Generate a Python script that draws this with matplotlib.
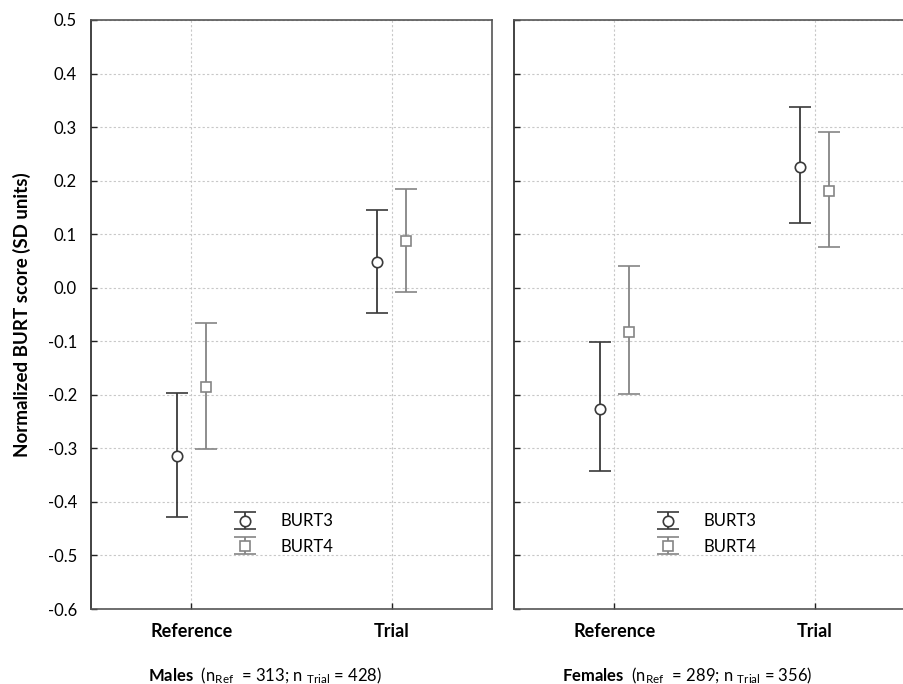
import matplotlib
matplotlib.use('Agg')
import matplotlib.pyplot as plt
import numpy as np

plt.rcParams['font.family'] = ['Lato', 'DejaVu Sans']
plt.rcParams['mathtext.fontset'] = 'custom'
plt.rcParams['mathtext.rm'] = 'Lato'
plt.rcParams['mathtext.bf'] = 'Lato:bold'
plt.rcParams['mathtext.it'] = 'Lato:italic'

categories = ['Reference', 'Trial']
series = ['BURT3', 'BURT4']

# mean, lower and upper limits per panel, series -> [Reference, Trial]
males_mean = {'BURT3': [-0.315, 0.048], 'BURT4': [-0.185, 0.087]}
males_low = {'BURT3': [-0.428, -0.047], 'BURT4': [-0.301, -0.008]}
males_high = {'BURT3': [-0.196, 0.145], 'BURT4': [-0.066, 0.184]}

females_mean = {'BURT3': [-0.227, 0.225], 'BURT4': [-0.083, 0.180]}
females_low = {'BURT3': [-0.343, 0.120], 'BURT4': [-0.198, 0.076]}
females_high = {'BURT3': [-0.102, 0.337], 'BURT4': [0.040, 0.290]}

panel_titles = [
    r'$\mathbf{Males}$  (n$_{\mathrm{Ref}}$  = 313; n $_{\mathrm{Trial}}$ = 428)',
    r'$\mathbf{Females}$  (n$_{\mathrm{Ref}}$  = 289; n $_{\mathrm{Trial}}$ = 356)',
]

yticks = [0.5, 0.4, 0.3, 0.2, 0.1, 0.0, -0.1, -0.2, -0.3, -0.4, -0.5, -0.6]
ytick_labels = ['0.5', '0.4', '0.3', '0.2', '0.1', '0.0', '-0.1', '-0.2',
                '-0.3', '-0.4', '-0.5', '-0.6']

styles = {
    'BURT3': dict(color='#3a3a3a', marker='o', offset=-0.072),
    'BURT4': dict(color='#858585', marker='s', offset=0.072),
}

W, H = 904, 684
fig = plt.figure(figsize=(W / 100, H / 100), dpi=100)
ax1 = fig.add_axes([91 / W, (H - 609) / H, 401 / W, 589 / H])
ax2 = fig.add_axes([514 / W, (H - 609) / H, 401 / W, 589 / H])

panels = [
    (ax1, males_mean, males_low, males_high),
    (ax2, females_mean, females_low, females_high),
]

x = np.arange(len(categories))
for i, (ax, mean, low, high) in enumerate(panels):
    handles = []
    for s in series:
        st = styles[s]
        m = np.array(mean[s])
        err = np.array([m - np.array(low[s]), np.array(high[s]) - m])
        h = ax.errorbar(x + st['offset'], m, yerr=err, fmt=st['marker'],
                        color=st['color'], ecolor=st['color'], elinewidth=1.3,
                        capsize=8, capthick=1.3, markersize=7.5,
                        markerfacecolor='white', markeredgecolor=st['color'],
                        markeredgewidth=1.2, label=s, zorder=3)
        handles.append(h)

    ax.set_xlim(-0.5, 1.5)
    ax.set_ylim(-0.6, 0.5)
    ax.set_xticks(x)
    ax.set_xticklabels(categories, fontweight='bold', fontsize=13)
    ax.set_yticks(yticks)
    if i == 0:
        ax.set_yticklabels(ytick_labels, fontsize=12)
        ax.set_ylabel('Normalized BURT score (SD units)', fontweight='bold',
                      fontsize=13.5, labelpad=12)
    else:
        ax.set_yticklabels([])
    ax.tick_params(direction='in', length=4, width=1, pad=10, color='#222222')
    ax.grid(True, linestyle=(0, (2, 2)), color='#c8c8c8', linewidth=0.8)
    ax.set_axisbelow(True)
    for sp in ax.spines.values():
        sp.set_color('#555555')
        sp.set_linewidth(1.2)
    ax.spines['left'].set_color('#222222')

    ax.legend(handles=handles, loc='lower left', bbox_to_anchor=(0.31, 0.067),
              frameon=False, fontsize=12, handlelength=1.8, handletextpad=1.2,
              labelspacing=0.55)

    ax.text(0.433, -0.113, panel_titles[i],
            transform=ax.transAxes, ha='center', va='center', fontsize=12)

fig.savefig('out.png', dpi=100)
